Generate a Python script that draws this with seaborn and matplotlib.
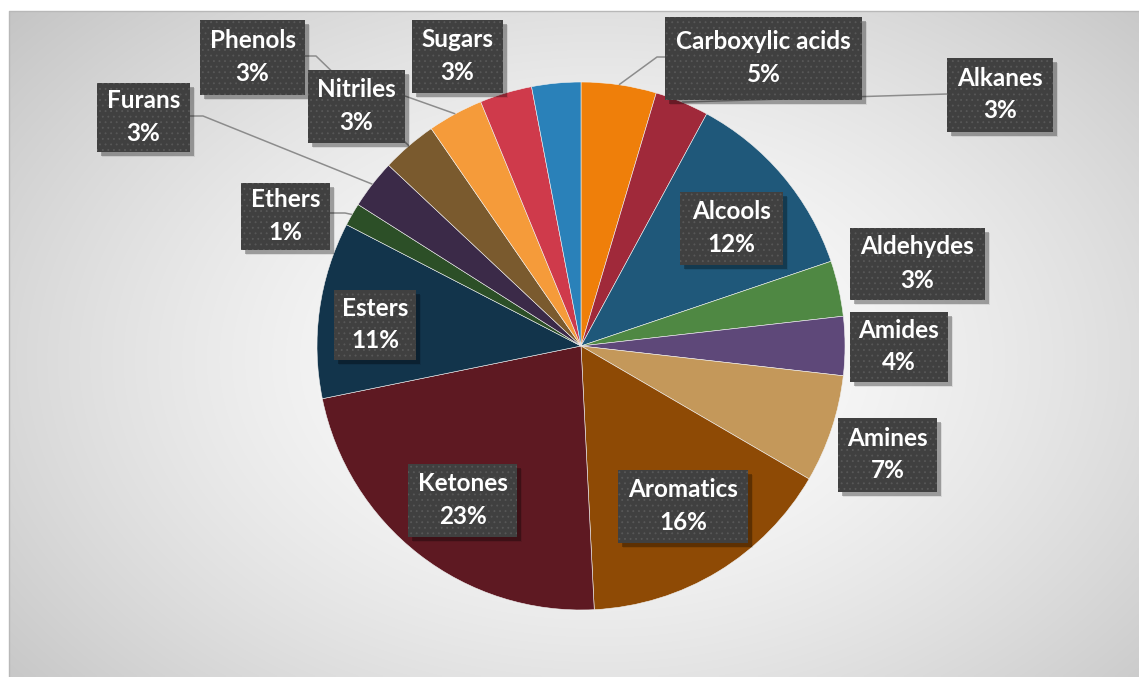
import numpy as np
import matplotlib
matplotlib.use("Agg")
import matplotlib.pyplot as plt
from matplotlib.patches import Rectangle
import seaborn as sns

# Compound classes, clockwise from 12 o'clock
categories = ["Carboxylic acids", "Alkanes", "Alcools", "Aldehydes", "Amides",
              "Amines", "Aromatics", "Ketones", "Esters", "Ethers", "Furans",
              "Phenols", "Nitriles", "Sugars", ""]
shares = [4.6, 3.3, 11.9, 3.4, 3.6, 6.6, 15.8, 22.6, 10.8, 1.4, 3.0,
          3.4, 3.4, 3.2, 3.0]
slice_colors = ["#EF7F0A", "#A0293A", "#1F587A", "#4F8843", "#5E4879",
                "#C4985A", "#8E4A05", "#5E1922", "#12344B", "#2C4F27",
                "#3B2A48", "#7A5A2E", "#F59B3A", "#CF3A4B", "#2A81B9"]

# Label boxes (left, top, right, bottom in pixels from the top-left corner)
label_boxes = {
    "Carboxylic acids": (665, 17, 862, 100),
    "Alkanes": (947, 58, 1053, 132),
    "Alcools": (680, 192, 783, 265),
    "Aldehydes": (850, 228, 985, 300),
    "Amides": (850, 312, 948, 382),
    "Amines": (838, 418, 937, 492),
    "Aromatics": (618, 470, 748, 543),
    "Ketones": (408, 464, 517, 537),
    "Esters": (334, 290, 416, 360),
    "Ethers": (241, 183, 330, 250),
    "Furans": (97, 83, 190, 152),
    "Phenols": (200, 20, 305, 95),
    "Nitriles": (308, 70, 405, 143),
    "Sugars": (412, 20, 503, 93),
}
# Leader lines: start points (pixels); the end is on the slice's rim
leader_starts = {
    "Carboxylic acids": [(665, 57), (657, 57)],
    "Alkanes": [(947, 94)],
    "Phenols": [(305, 56), (316, 56)],
    "Nitriles": [(405, 96)],
    "Furans": [(190, 116), (203, 116)],
    "Ethers": [(330, 213), (345, 213)],
}

W, H = 1139, 677
CX, CY, R = 581, 346, 264

sns.set_theme(style="white")
plt.rcParams["font.family"] = ["Lato", "DejaVu Sans"]

fig = plt.figure(figsize=(W / 100, H / 100), dpi=100)
ax = fig.add_axes([0, 0, 1, 1])
ax.set_xlim(0, W)
ax.set_ylim(0, H)
ax.axis("off")


def px(x, y):
    return x, H - y


# Chart area background: soft radial gradient
gx0, gy0, gx1, gy1 = 9, 11, W, H
xs = np.linspace(gx0, gx1, 400)
ys = np.linspace(gy0, gy1, 240)
XX, YY = np.meshgrid(xs, ys)
d = np.sqrt(((XX - 600) / 700) ** 2 + ((YY - 360) / 480) ** 2)
shade = 1 - 0.195 * d ** 1.5
img = np.dstack([shade] * 3).clip(0, 1)
ax.imshow(img, extent=(gx0, gx1, H - gy1, H - gy0), origin="upper",
          aspect="auto", zorder=0, interpolation="bilinear")
ax.plot([gx0, gx0, gx1], [H - gy1, H - gy0, H - gy0], color="#b8b8b8",
        linewidth=1.0, zorder=0.5)

# Pie
wedges, _ = ax.pie(shares, colors=slice_colors, startangle=90,
                   counterclock=False, center=px(CX, CY), radius=R,
                   wedgeprops=dict(edgecolor="#f2f2f2", linewidth=0.4),
                   frame=False)
for w in wedges:
    w.set_zorder(2)
ax.set_xlim(0, W)
ax.set_ylim(0, H)
ax.set_aspect("equal")

# Rim points at each slice's middle angle
cum = np.cumsum([0] + shares)
total = cum[-1]
mid_pt = {}
for name, a, b in zip(categories, cum[:-1], cum[1:]):
    ang = np.deg2rad(90 - 360 * (a + b) / 2 / total)
    mid_pt[name] = (CX + R * np.cos(ang), CY - R * np.sin(ang))

for name, pts in leader_starts.items():
    path = [px(*p) for p in pts] + [px(*mid_pt[name])]
    xs_, ys_ = zip(*path)
    ax.plot(xs_, ys_, color="#8c8c8c", linewidth=1.1, zorder=2.5,
            solid_capstyle="butt")

plt.rcParams["hatch.color"] = "#575757"
plt.rcParams["hatch.linewidth"] = 0.6
for name, share in zip(categories, shares):
    if name not in label_boxes:
        continue
    l, t, r, b = label_boxes[name]
    # drop shadow
    for k, a in zip((6, 4, 2), (0.08, 0.12, 0.18)):
        ax.add_patch(Rectangle(px(l + 3 + k * 0.3, b + 3 + k * 0.3), r - l, b - t,
                               facecolor="black", edgecolor="none", alpha=a,
                               zorder=3))
    ax.add_patch(Rectangle(px(l, b), r - l, b - t, facecolor="#404040",
                           edgecolor="none", zorder=3.2))
    ax.add_patch(Rectangle(px(l, b), r - l, b - t, facecolor="none",
                           edgecolor="#585858", hatch="...", linewidth=0,
                           zorder=3.3))
    cxl = (l + r) / 2
    cyl = (t + b) / 2
    ax.text(*px(cxl, cyl - 17), name, color="white", fontsize=17.5,
            fontweight="bold", ha="center", va="center", zorder=4)
    ax.text(*px(cxl, cyl + 16), f"{share:.0f}%", color="white", fontsize=17.5,
            fontweight="bold", ha="center", va="center", zorder=4)

fig.savefig("out.png", dpi=100, facecolor="white")
